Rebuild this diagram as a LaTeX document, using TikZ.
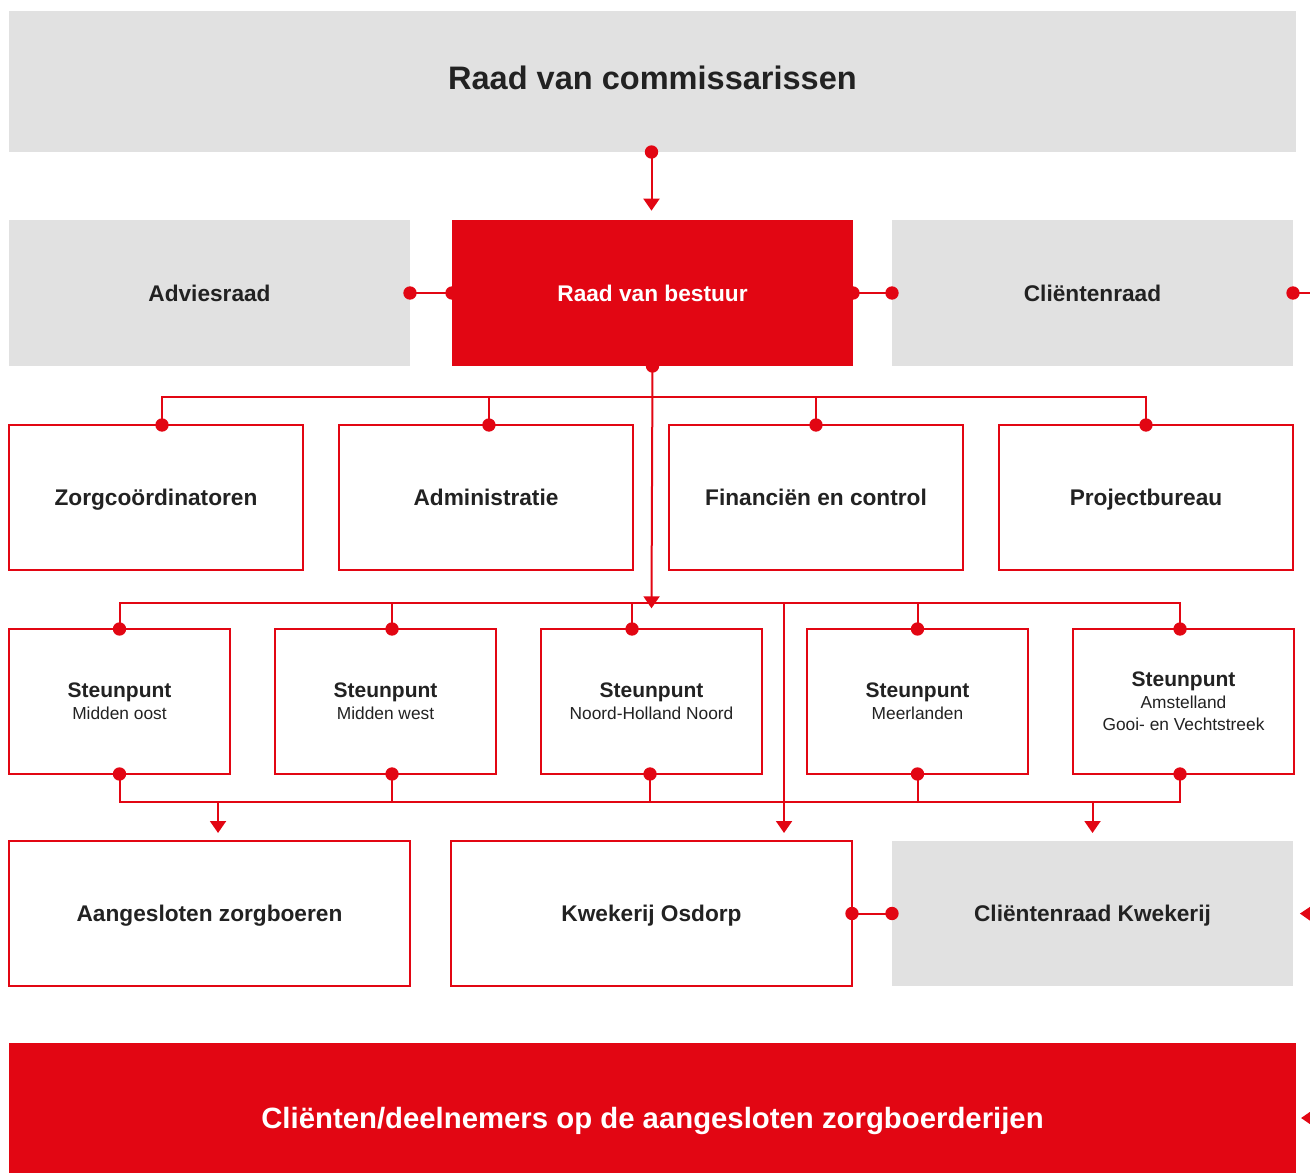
\documentclass[tikz,border=0pt]{standalone}
\usepackage{fontspec}
\setmainfont{Liberation Sans}
\usetikzlibrary{arrows.meta,calc,positioning}
\definecolor{brandred}{HTML}{E20613}
\definecolor{boxgray}{HTML}{E1E1E1}
\definecolor{textdark}{HTML}{222222}
\tikzset{
  box/.style 2 args={minimum width=#1*0.75pt,minimum height=#2*0.75pt,inner sep=0pt,outer sep=0pt,
    align=center,text=textdark,font=\bfseries\fontsize{17}{20}\selectfont},
  oneline/.style={text height=12.2pt,text depth=0pt},
  graybox/.style={fill=boxgray},
  redbox/.style={fill=brandred,text=white},
  linebox/.style={draw=brandred,line width=1.5pt,fill=white},
  steunbox/.style={box={221}{145},linebox,font=\bfseries\fontsize{15.75}{16.5}\selectfont},
  link/.style={draw=brandred,line width=1.5pt},
  arrowlink/.style={link,-{Triangle[width=12pt,length=9pt]}},
  dot/.style={fill=brandred}
}
\newcommand{\steunsub}[1]{{\mdseries\fontsize{13}{16.5}\selectfont #1}}
\newcommand{\dotr}{5pt}

\begin{document}
\begin{tikzpicture}[x=0.75pt,y=-0.75pt]
  \useasboundingbox (0,0) rectangle (1310,1173);
  \clip (0,0) rectangle (1310,1173);
  % boxes
  \node[box={1287}{141},graybox,font=\bfseries\fontsize{24.4}{28}\selectfont,text height=17.5pt,text depth=5.2pt] (rvc) at (652.5,81.5) {Raad van commissarissen};
  \node[box={401}{146},graybox,oneline] (advies) at (209.5,293) {Adviesraad};
  \node[box={401}{146},redbox,oneline] (rvb) at (652.5,293) {Raad van bestuur};
  \node[box={401}{146},graybox,oneline] (craad) at (1092.5,293) {Cliëntenraad};
  \node[box={294}{145},linebox,oneline] (zorg) at (156,497.5) {Zorgcoördinatoren};
  \node[box={294}{145},linebox,oneline] (admin) at (486,497.5) {Administratie};
  \node[box={294}{145},linebox,oneline] (fin) at (816,497.5) {Financiën en control};
  \node[box={294}{145},linebox,oneline] (proj) at (1146,497.5) {Projectbureau};
  \node[steunbox] (sp1) at (119.5,701.5) {Steunpunt\\\steunsub{Midden oost}};
  \node[steunbox] (sp2) at (385.5,701.5) {Steunpunt\\\steunsub{Midden west}};
  \node[steunbox] (sp3) at (651.5,701.5) {Steunpunt\\\steunsub{Noord-Holland Noord}};
  \node[steunbox] (sp4) at (917.5,701.5) {Steunpunt\\\steunsub{Meerlanden}};
  \node[steunbox] (sp5) at (1183.5,701.5) {Steunpunt\\\steunsub{Amstelland}\\\steunsub{Gooi- en Vechtstreek}};
  \node[box={401}{145},linebox,oneline] (boeren) at (209.5,913.5) {Aangesloten zorgboeren};
  \node[box={401}{145},linebox,oneline] (kwek) at (651.5,913.5) {Kwekerij Osdorp};
  \node[box={401}{145},graybox,oneline] (ckwek) at (1092.5,913.5) {Cliëntenraad Kwekerij};
  \node[box={1287}{150},redbox,font=\bfseries\fontsize{22}{26}\selectfont,text height=15.75pt,text depth=0pt] (clienten) at (652.5,1118) {Cliënten/deelnemers op de aangesloten zorgboerderijen};

  % bus lines
  \coordinate (busA) at (651.5,397);
  \coordinate (busB) at (651.5,603);
  \coordinate (busC) at (651.5,802);
  \coordinate (rvc-s) at (651.5,152);
  \coordinate (craad-out) at (1340,293);
  \coordinate (ckwek-in) at (1340,914);
  \coordinate (clienten-in) at (1340,1118);

  % top
  \draw[arrowlink,shorten >=7pt] (rvc-s) -- (rvc-s |- rvb.north);
  \draw[link] (advies.east) -- (rvb.west);
  \draw[link] (rvb.east) -- (craad.west);
  \draw[link] (craad.east) -- (craad-out);
  \draw[arrowlink,shorten >=-4pt] (rvb.south) -- (busB);

  % staff row
  \draw[link] ([xshift=4.5pt]zorg.north) |- (busA) -| (proj.north);
  \draw[link] ([xshift=2.2pt]admin.north) -- ([xshift=2.2pt]admin.north |- busA);
  \draw[link] (fin.north) -- (fin.north |- busA);

  % steunpunten
  \draw[link] (sp1.north) |- (busB) -| ([xshift=-2.6pt]sp5.north);
  \draw[link] ([xshift=4.9pt]sp2.north) -- ([xshift=4.9pt]sp2.north |- busB);
  \draw[link] ([xshift=-14.6pt]sp3.north) -- ([xshift=-14.6pt]sp3.north |- busB);
  \draw[link] (sp4.north) -- (sp4.north |- busB);
  \draw[link] (sp1.south) |- (busC) -| ([xshift=-2.6pt]sp5.south);
  \draw[link] ([xshift=4.9pt]sp2.south) -- ([xshift=4.9pt]sp2.south |- busC);
  \draw[link] ([xshift=-1.1pt]sp3.south) -- ([xshift=-1.1pt]sp3.south |- busC);
  \draw[link] (sp4.south) -- (sp4.south |- busC);
  \draw[arrowlink,shorten >=6pt] ([xshift=6.4pt]boeren.north |- busC) -- ([xshift=6.4pt]boeren.north);
  \draw[arrowlink,shorten >=6pt] (ckwek.north |- busC) -- (ckwek.north);
  \draw[arrowlink,shorten >=6pt] ([xshift=99.4pt]busB) -- ([xshift=99.4pt]kwek.north);

  % bottom row
  \draw[link] (kwek.east) -- (ckwek.west);
  \draw[arrowlink,shorten >=5.2pt] (ckwek-in) -- (ckwek.east);
  \draw[arrowlink,shorten >=3.8pt] (clienten-in) -- (clienten.east);

  % dots
  \fill[dot] (rvc-s) circle (\dotr) (advies.east) circle (\dotr) (rvb.west) circle (\dotr)
    (rvb.east) circle (\dotr) (craad.west) circle (\dotr) (craad.east) circle (\dotr)
    (rvb.south) circle (\dotr);
  \fill[dot] ([xshift=4.5pt]zorg.north) circle (\dotr) ([xshift=2.2pt]admin.north) circle (\dotr)
    (fin.north) circle (\dotr) (proj.north) circle (\dotr);
  \fill[dot] (sp1.north) circle (\dotr) ([xshift=4.9pt]sp2.north) circle (\dotr)
    ([xshift=-14.6pt]sp3.north) circle (\dotr) (sp4.north) circle (\dotr)
    ([xshift=-2.6pt]sp5.north) circle (\dotr);
  \fill[dot] (sp1.south) circle (\dotr) ([xshift=4.9pt]sp2.south) circle (\dotr)
    ([xshift=-1.1pt]sp3.south) circle (\dotr) (sp4.south) circle (\dotr)
    ([xshift=-2.6pt]sp5.south) circle (\dotr);
  \fill[dot] (kwek.east) circle (\dotr) (ckwek.west) circle (\dotr);
\end{tikzpicture}
\end{document}
